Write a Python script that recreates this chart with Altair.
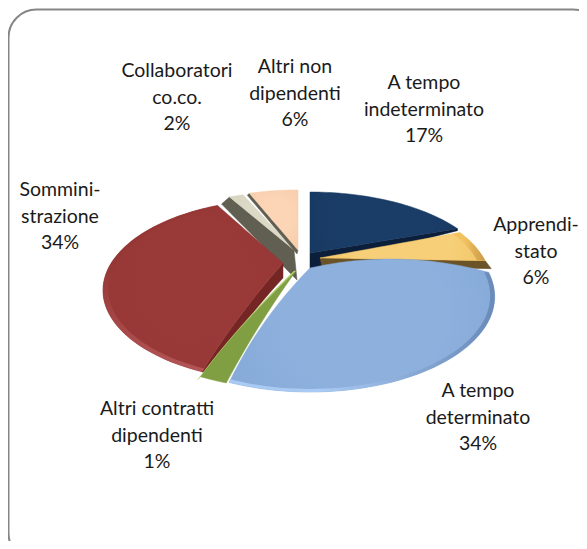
import math
import altair as alt
import pandas as pd

names = ["A tempo indeterminato", "Apprendistato", "A tempo determinato",
         "Altri contratti dipendenti", "Somministrazione",
         "Collaboratori co.co.", "Altri non dipendenti"]
values = [17, 6, 34, 1, 34, 2, 6]
top_stops = [
    ["#1a3d68", "#17375e", "#122f52"],
    ["#f6cf78", "#f2c261", "#e3b055"],
    ["#8db0dd", "#84a8d6", "#7f9fcc"],
    ["#7f9f42", "#7f9f42", "#7a9a40"],
    ["#9a3a38", "#953735", "#983a39"],
    ["#dcd9c6", "#d6d3bf", "#cfccb6"],
    ["#fbd5b5", "#f7cdab", "#f4c7a2"],
]
side_colors = ["#0b1f3a", "#6b5328", "#4f6c95", "#b5d36a", "#752624", "#615f52", "#615f52"]
# lit rim along the outer arc: colours at the two ends of a gradient, width share, direction
rim_from = [None, "#f2c261", "#a9caf3", None, "#953735", None, None]
rim_to = [None, "#c9994a", "#6a8bb8", None, "#b35456", None, None]
rim_share = [0, 0.05, 0.025, 0, 0.03, 0, 0]
rim_vertical = [False, False, False, False, True, False, False]
# slice geometry
apex_x = [310, 320, 310, 296, 283, 294, 298]
apex_y = [253, 258, 268, 271, 263, 250, 250]
size_x = [0.97, 0.92, 0.99, 1.00, 0.965, 0.95, 0.95]
size_y = [0.955, 1.0, 1.046, 1.00, 1.0, 0.92, 0.94]
trim_start = [0, 9, 10, -9, -9, 0, 0]
trim_end = [9, 9, -6, -6, 0, -1, 0]
# side strips: which edge (0 start, 1 end), offset at the apex and at the tip
side_edge = [1, 1, None, 1, 0, 0, 0]
side_apex = [(0, 16), (2, 9), None, (-2, 0), (0, 15), (3, 30), (-1, 4)]
side_tip = [(0, 2), (6, 8), None, (-3, 3), (7, 3), (-8, 7), (-2, 2)]
# curved edges (bulge in pixels at the middle of each edge)
bow_start = [(0, 0), (0, 0), (0, -11), (-2, -1), (-2, -2), (0, 0), (0, 0)]
bow_end = [(0, 0), (0, 0), (-5, -3), (-3, -1), (0, 0), (0, 0), (0, 0)]
draw_order = [5, 6, 0, 1, 4, 3, 2]

label_lines = [
    ["A tempo", "indeterminato", "17%"],
    ["Apprendi-", "stato", "6%"],
    ["A tempo", "determinato", "34%"],
    ["Altri contratti", "dipendenti", "1%"],
    ["Sommini-", "strazione", "34%"],
    ["Collaboratori", "co.co.", "2%"],
    ["Altri non", "dipendenti", "6%"],
]
label_x = [424, 536, 478, 157, 60, 177, 295]
label_y = [83, 225, 391, 409, 190, 71, 67]
line_gap = 26.5

W, H = 571, 533
RX, RY, K = 178, 83, 0.30


def project(ang, sx, sy):
    u, v = math.sin(ang), math.cos(ang)
    d = 1 + K * v
    return RX * sx * u / d, -RY * sy * v / d


def angles(i):
    total = sum(values)
    start = sum(values[:i]) / total * 360 + trim_start[i]
    end = sum(values[:i + 1]) / total * 360 + trim_end[i]
    return math.radians(start), math.radians(end)


def edge_points(ax, ay, tx, ty, bow, m=12):
    return [(ax + (tx - ax) * t + bow[0] * 4 * t * (1 - t),
             ay + (ty - ay) * t + bow[1] * 4 * t * (1 - t))
            for t in [k / m for k in range(m + 1)]]


def frame_of(pts):
    return pd.DataFrame({"x": [p[0] for p in pts], "y": [p[1] for p in pts],
                         "o": list(range(len(pts)))})


def arc_ends(i, scale=1.0):
    start, end = angles(i)
    n = max(int((end - start) / 0.03), 3)
    arc = []
    for j in range(n + 1):
        a = start + (end - start) * j / n
        px, py = project(a, size_x[i] * scale, size_y[i] * scale)
        arc.append((apex_x[i] + px, apex_y[i] + py))
    return arc


def wedge(i):
    arc = arc_ends(i)
    ax, ay = apex_x[i], apex_y[i]
    first = edge_points(ax, ay, arc[0][0], arc[0][1], bow_start[i])
    last = edge_points(ax, ay, arc[-1][0], arc[-1][1], bow_end[i])
    return frame_of(first + arc[1:] + last[::-1][1:])


def rim(i):
    outer = arc_ends(i)
    inner = arc_ends(i, 1 - rim_share[i])
    return frame_of(outer + inner[::-1] + [outer[0]])


def strip(i):
    arc = arc_ends(i)
    e = side_edge[i]
    tip = arc[-1] if e else arc[0]
    bow = bow_end[i] if e else bow_start[i]
    ax, ay = apex_x[i], apex_y[i]
    a_o, t_o = side_apex[i], side_tip[i]
    upper = edge_points(ax, ay, tip[0], tip[1], bow)
    lower = edge_points(ax + a_o[0], ay + a_o[1], tip[0] + t_o[0], tip[1] + t_o[1], bow)
    return frame_of(upper + lower[::-1] + [upper[0]])


xs = alt.Scale(domain=[8, 8 + W], range=[0, W], nice=False, zero=False)
ys = alt.Scale(domain=[8, 8 + H], range=[0, H], nice=False, zero=False)
X = alt.X("x:Q", scale=xs, axis=None)
Y = alt.Y("y:Q", scale=ys, axis=None)

layers = []
frame = alt.Chart(pd.DataFrame({"a": [0]})).mark_rect(
    fill="white", stroke="#868686", strokeWidth=2, cornerRadius=28
).encode(x=alt.value(0.5), x2=alt.value(W + 22), y=alt.value(1.5), y2=alt.value(H + 20))
layers.append(frame)

for i in draw_order:
    if side_edge[i] is not None:
        layers.append(alt.Chart(strip(i)).mark_line(
            fill=side_colors[i], stroke=side_colors[i], strokeWidth=0.5, interpolate="linear"
        ).encode(x=X, y=Y, order="o:Q"))
    s = top_stops[i]
    grad = alt.RadialGradient(
        gradient="radial", x1=0.5, y1=0.45, r1=0.3, x2=0.5, y2=0.45, r2=0.75,
        stops=[alt.GradientStop(color=s[0], offset=0),
               alt.GradientStop(color=s[1], offset=0.75),
               alt.GradientStop(color=s[2], offset=1)])
    layers.append(alt.Chart(wedge(i)).mark_line(
        fill=grad, stroke=s[1], strokeWidth=0.5, interpolate="linear"
    ).encode(x=X, y=Y, order="o:Q"))
    if rim_from[i]:
        rim_grad = alt.LinearGradient(
            gradient="linear", x1=0, y1=0,
            x2=0 if rim_vertical[i] else 1, y2=1 if rim_vertical[i] else 0,
            stops=[alt.GradientStop(color=rim_from[i], offset=0.35),
                   alt.GradientStop(color=rim_to[i], offset=1)])
        layers.append(alt.Chart(rim(i)).mark_line(
            fill=rim_grad, strokeWidth=0, interpolate="linear"
        ).encode(x=X, y=Y, order="o:Q"))

rows = []
for i, lines in enumerate(label_lines):
    for j, t in enumerate(lines):
        rows.append({"x": label_x[i], "y": label_y[i] + j * line_gap, "t": t})
text = alt.Chart(pd.DataFrame(rows)).mark_text(
    font="Lato", fontSize=19.5, color="#1a1a1a", align="center", baseline="middle"
).encode(x=X, y=Y, text="t:N")
layers.append(text)

chart = alt.layer(*layers).properties(
    width=W, height=H, padding=0, autosize=alt.AutoSizeParams(type="none"),
    background="white"
).configure_view(stroke=None)

chart.save("out.html", embed_options={"renderer": "svg", "actions": False})
